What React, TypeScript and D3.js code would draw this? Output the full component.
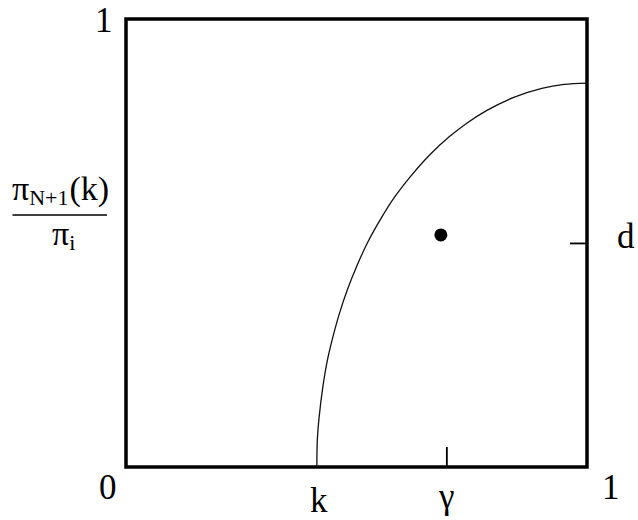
import React from 'react';
import * as d3 from 'd3';

// curve: [x, y] in unit coordinates
const curveX = [0.414, 0.415, 0.419, 0.427, 0.437, 0.449, 0.463, 0.48, 0.5, 0.523, 0.551, 0.581, 0.616, 0.658, 0.701, 0.74, 0.781, 0.841, 0.902, 0.95, 1.0];
const curveY = [0, 0.06, 0.112, 0.179, 0.239, 0.291, 0.343, 0.395, 0.447, 0.499, 0.551, 0.6, 0.647, 0.696, 0.737, 0.768, 0.795, 0.825, 0.845, 0.854, 0.857];
const kValue = 0.414;
const gammaValue = 0.696;
const dValue = 0.499;
const dotPoint = [0.683, 0.518];
const cornerLabels = ['0', '1'];

const W = 638;
const H = 520;
const margin = { top: 19, right: 51, bottom: 53, left: 126 };
const serif = { fontFamily: "'Liberation Serif', 'DejaVu Serif', serif" };

const App = () => {
  const x = d3.scaleLinear().domain([0, 1]).range([margin.left, W - margin.right]);
  const y = d3.scaleLinear().domain([0, 1]).range([H - margin.bottom, margin.top]);

  const pts = curveX.map((v, i) => [v, curveY[i]] as [number, number]);
  const line = d3.line<[number, number]>()
    .x(d => x(d[0]))
    .y(d => y(d[1]))
    .curve(d3.curveCatmullRom.alpha(0.5));

  return (
    <svg width={W} height={H} style={{ position: 'absolute', left: 0, top: 0, background: '#fff' }}>
      <rect x={x(0)} y={y(1)} width={x(1) - x(0)} height={y(0) - y(1)}
        fill="none" stroke="#000" strokeWidth={3.5} />
      <path d={line(pts) || ''} fill="none" stroke="#111" strokeWidth={1.3} />
      {/* ticks */}
      <line x1={x(gammaValue)} x2={x(gammaValue)} y1={y(0)} y2={y(0) - 20} stroke="#000" strokeWidth={1.8} />
      <line x1={x(1)} x2={x(1) - 17} y1={y(dValue)} y2={y(dValue)} stroke="#000" strokeWidth={1.8} />
      <circle cx={x(dotPoint[0])} cy={y(dotPoint[1])} r={6.5} fill="#000" />

      {/* labels */}
      <g style={serif} fill="#000">
        <text x={x(0) - 27} y={y(0) + 32} fontSize={35}>{cornerLabels[0]}</text>
        <text x={x(1) + 15} y={y(0) + 32} fontSize={35}>{cornerLabels[1]}</text>
        <text x={x(0) - 31} y={y(1) + 13} fontSize={35}>{cornerLabels[1]}</text>
        <text x={x(kValue) + 2} y={y(0) + 45} fontSize={35} textAnchor="middle">k</text>
        <text x={x(gammaValue)} y={y(0) + 41} fontSize={35} textAnchor="middle">γ</text>
        <text x={x(1) + 30} y={y(dValue) + 5} fontSize={35}>d</text>

        {/* y label: pi_{N+1}(k) / pi_i */}
        <text x={12} y={200} fontSize={34}>
          π<tspan fontSize={22} dy={5}>N+1</tspan><tspan dy={-5} dx={1} fontSize={34}>(k)</tspan>
        </text>
        <line x1={12.5} x2={107} y1={215} y2={215} stroke="#000" strokeWidth={1.5} />
        <text x={52} y={245} fontSize={34}>
          π<tspan fontSize={22} dy={5}>i</tspan>
        </text>
      </g>
    </svg>
  );
};

export default App;
